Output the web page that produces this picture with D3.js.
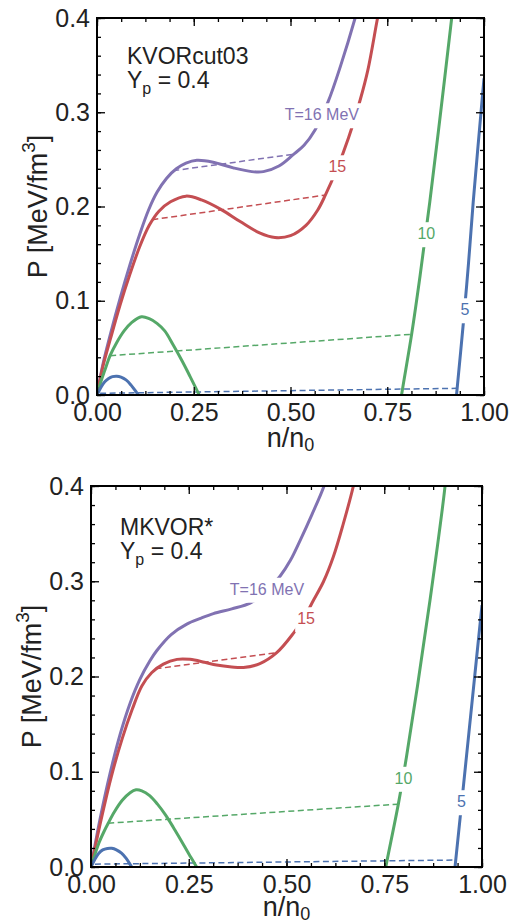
<!DOCTYPE html>
<html>
<head>
<meta charset="utf-8">
<script src="https://cdn.jsdelivr.net/npm/d3@7"></script>
<style>
  body { margin: 0; background: #fff; }
  text { font-family: "Liberation Sans", Arial, sans-serif; }
</style>
</head>
<body>
<svg id="chart" width="516" height="924"></svg>
<script>
// ---- data: pressure isotherms P(n), n in units of n0, P in MeV/fm^3 ----
var temps = ["T=16 MeV", "15", "10", "5"];
var colors = ["#8172B2", "#C44E52", "#55A868", "#4C72B0"];
var xTicks = [0, 0.25, 0.5, 0.75, 1.0];
var yTicks = [0, 0.1, 0.2, 0.3, 0.4];

// KVORcut03 panel
var kvor16 = [[0,0],[0.015,0.032],[0.035,0.065],[0.06,0.103],[0.085,0.138],[0.11,0.17],[0.133,0.196],[0.155,0.215],
  [0.18,0.23],[0.205,0.24],[0.23,0.246],[0.258,0.249],[0.3,0.247],[0.352,0.241],[0.4,0.237],[0.43,0.237],
  [0.47,0.243],[0.507,0.255],[0.535,0.265],[0.563,0.281],[0.597,0.311],[0.63,0.35],[0.667,0.4],[0.68,0.42]];
var kvor15 = [[0,0],[0.015,0.03],[0.035,0.06],[0.06,0.096],[0.085,0.128],[0.11,0.157],[0.135,0.18],[0.16,0.195],
  [0.19,0.205],[0.23,0.211],[0.27,0.207],[0.32,0.197],[0.37,0.184],[0.42,0.172],[0.46,0.167],[0.5,0.169],
  [0.54,0.18],[0.57,0.196],[0.59,0.212],[0.62,0.24],[0.65,0.273],[0.68,0.313],[0.7,0.345],[0.725,0.4],[0.735,0.42]];
var kvor10a = [[0,0],[0.01,0.014],[0.02,0.026],[0.034,0.042],[0.05,0.055],[0.07,0.068],[0.09,0.077],[0.115,0.083],
  [0.135,0.081],[0.155,0.076],[0.175,0.068],[0.197,0.053],[0.22,0.036],[0.24,0.02],[0.264,0],[0.275,-0.01]];
var kvor10b = [[0.78,-0.02],[0.787,0],[0.813,0.0644],[0.835,0.127],[0.86,0.205],[0.888,0.3],[0.9165,0.4],[0.922,0.42]];
var kvor5a = [[0,0],[0.01,0.008],[0.02,0.014],[0.03,0.0175],[0.04,0.0195],[0.051,0.02],[0.062,0.019],[0.075,0.016],
  [0.088,0.0105],[0.1,0.004],[0.107,0],[0.112,-0.004]];
var kvor5b = [[0.927,-0.01],[0.929,0],[0.947,0.078],[0.96,0.14],[0.972,0.204],[1.0,0.336]];
var kvorMaxwell = [
  [[0.197,0.238],[0.512,0.2557]],
  [[0.143,0.186],[0.588,0.212]],
  [[0.034,0.0417],[0.813,0.0644]],
  [[0.008,0.0018],[0.929,0.0071]]
];

// MKVOR* panel
var mkvor16 = [[0,0],[0.023,0.05],[0.0486,0.098],[0.075,0.14],[0.1,0.172],[0.125,0.197],[0.15,0.216],[0.168,0.227],
  [0.205,0.244],[0.245,0.255],[0.28,0.261],[0.313,0.266],[0.36,0.271],[0.407,0.277],[0.445,0.288],[0.483,0.305],
  [0.51,0.322],[0.535,0.343],[0.565,0.37],[0.596,0.4],[0.61,0.42]];
var mkvor15 = [[0,0],[0.026,0.05],[0.052,0.095],[0.08,0.135],[0.105,0.165],[0.13,0.19],[0.155,0.204],[0.185,0.213],
  [0.22,0.218],[0.253,0.218],[0.29,0.215],[0.321,0.212],[0.36,0.21],[0.39,0.2095],[0.432,0.2135],[0.475,0.225],
  [0.517,0.245],[0.545,0.262],[0.569,0.28],[0.595,0.3],[0.62,0.326],[0.645,0.36],[0.671,0.4],[0.68,0.42]];
var mkvor10a = [[0,0],[0.01,0.013],[0.02,0.025],[0.033,0.037],[0.044,0.046],[0.06,0.058],[0.08,0.07],[0.1,0.078],
  [0.115,0.081],[0.13,0.08],[0.15,0.075],[0.17,0.066],[0.19,0.055],[0.21,0.042],[0.23,0.028],[0.25,0.014],
  [0.27,0],[0.28,-0.008]];
var mkvor10b = [[0.75,-0.01],[0.754,0],[0.786,0.066],[0.807,0.116],[0.835,0.19],[0.867,0.28],[0.905,0.398],[0.91,0.42]];
var mkvor5a = [[0,0],[0.01,0.008],[0.02,0.0145],[0.03,0.018],[0.042,0.0195],[0.053,0.0196],[0.065,0.018],
  [0.078,0.0145],[0.09,0.009],[0.104,0],[0.11,-0.004]];
var mkvor5b = [[0.929,-0.01],[0.931,0],[0.95,0.075],[0.975,0.175],[1.0,0.275]];
var mkvorMaxwell = [
  null,
  [[0.165,0.208],[0.475,0.225]],
  [[0.044,0.046],[0.786,0.066]],
  [[0.01,0.003],[0.931,0.0073]]
];

// ---- layout ----
var panels = [
  { title: "KVORcut03", left: 97, top: 18, right: 484, bottom: 395,
    curves: [[kvor16], [kvor15], [kvor10a, kvor10b], [kvor5a, kvor5b]],
    maxwell: kvorMaxwell,
    labelAt: [[0.581, 0.2976], [0.621, 0.2424], [0.851, 0.1714], [0.951, 0.0907]],
    titleDx: 30, titleDy: 46, xTitleDy: 52 },
  { title: "MKVOR*", left: 91, top: 486, right: 482, bottom: 867,
    curves: [[mkvor16], [mkvor15], [mkvor10a, mkvor10b], [mkvor5a, mkvor5b]],
    maxwell: mkvorMaxwell,
    labelAt: [[0.45, 0.2919], [0.55, 0.2609], [0.799, 0.0934], [0.9476, 0.0688]],
    titleDx: 29, titleDy: 49, xTitleDy: 49 }
];

var svg = d3.select("#chart");

function drawPanel(p, i) {
  var x = d3.scaleLinear().domain([0, 1]).range([p.left, p.right]);
  var y = d3.scaleLinear().domain([0, 0.4]).range([p.bottom, p.top]);
  var g = svg.append("g");

  svg.append("clipPath").attr("id", "clip" + i)
    .append("rect")
    .attr("x", p.left).attr("y", p.top)
    .attr("width", p.right - p.left).attr("height", p.bottom - p.top);

  var plot = g.append("g").attr("clip-path", "url(#clip" + i + ")");

  var line = d3.line()
    .x(function(d) { return x(d[0]); })
    .y(function(d) { return y(d[1]); })
    .curve(d3.curveCatmullRom.alpha(0.5));

  // Maxwell constructions (dashed)
  p.maxwell.forEach(function(m, k) {
    if (!m) return;
    plot.append("path")
      .attr("d", d3.line().x(function(d) { return x(d[0]); }).y(function(d) { return y(d[1]); })(m))
      .attr("fill", "none")
      .attr("stroke", colors[k])
      .attr("stroke-width", 1.5)
      .attr("stroke-dasharray", "6,3.5");
  });

  // isotherms
  p.curves.forEach(function(branches, k) {
    branches.forEach(function(b) {
      plot.append("path")
        .attr("d", line(b))
        .attr("fill", "none")
        .attr("stroke", colors[k])
        .attr("stroke-width", 3);
    });
  });

  // inline labels with white gap behind
  p.labelAt.forEach(function(pos, k) {
    var lg = g.append("g");
    var bg = lg.append("rect").attr("fill", "#fff");
    var t = lg.append("text")
      .attr("x", x(pos[0]))
      .attr("y", y(pos[1]))
      .attr("dy", "0.36em")
      .attr("text-anchor", "middle")
      .attr("font-size", 16)
      .attr("fill", colors[k])
      .text(temps[k]);
    var bb = t.node().getBBox();
    bg.attr("x", bb.x - 2).attr("y", bb.y - 3)
      .attr("width", bb.width + 4).attr("height", bb.height + 8);
  });

  // axes: major + minor ticks on all four sides, pointing inward
  var xMinor = d3.range(0, 1.0001, 0.0625);
  var yMinor = d3.range(0, 0.4001, 0.02);

  function tickStyle(sel) {
    sel.select(".domain").remove();
    sel.selectAll(".tick line").attr("stroke", "#000").attr("stroke-width", 1.3);
    sel.selectAll(".tick text").attr("font-size", 25).attr("fill", "#222")
      .attr("font-family", "'Liberation Sans', Arial, sans-serif");
  }

  g.append("g").attr("transform", "translate(0," + p.bottom + ")")
    .call(d3.axisBottom(x).tickValues(xMinor).tickSize(-4).tickFormat("")).call(tickStyle);
  g.append("g").attr("transform", "translate(0," + p.bottom + ")")
    .call(d3.axisBottom(x).tickValues(xTicks).tickSize(-8).tickPadding(8).tickFormat(d3.format(".2f")))
    .call(tickStyle);
  g.append("g").attr("transform", "translate(0," + p.top + ")")
    .call(d3.axisTop(x).tickValues(xMinor).tickSize(-4).tickFormat("")).call(tickStyle);
  g.append("g").attr("transform", "translate(0," + p.top + ")")
    .call(d3.axisTop(x).tickValues(xTicks).tickSize(-8).tickFormat("")).call(tickStyle);

  g.append("g").attr("transform", "translate(" + p.left + ",0)")
    .call(d3.axisLeft(y).tickValues(yMinor).tickSize(-4).tickFormat("")).call(tickStyle);
  g.append("g").attr("transform", "translate(" + p.left + ",0)")
    .call(d3.axisLeft(y).tickValues(yTicks).tickSize(-8).tickPadding(7).tickFormat(d3.format(".1f")))
    .call(tickStyle);
  g.append("g").attr("transform", "translate(" + p.right + ",0)")
    .call(d3.axisRight(y).tickValues(yMinor).tickSize(-4).tickFormat("")).call(tickStyle);
  g.append("g").attr("transform", "translate(" + p.right + ",0)")
    .call(d3.axisRight(y).tickValues(yTicks).tickSize(-8).tickFormat("")).call(tickStyle);

  // frame
  g.append("rect")
    .attr("x", p.left).attr("y", p.top)
    .attr("width", p.right - p.left).attr("height", p.bottom - p.top)
    .attr("fill", "none").attr("stroke", "#000").attr("stroke-width", 2);

  // model name and proton fraction
  g.append("text")
    .attr("x", p.left + p.titleDx).attr("y", p.top + p.titleDy)
    .attr("font-size", 23).attr("fill", "#222")
    .text(p.title);
  var yp = g.append("text")
    .attr("x", p.left + p.titleDx).attr("y", p.top + p.titleDy + 24)
    .attr("font-size", 23).attr("fill", "#222");
  yp.append("tspan").text("Y");
  yp.append("tspan").attr("font-size", 16).attr("dy", 6).text("p");
  yp.append("tspan").attr("dy", -6).text(" = 0.4");

  // axis titles
  var xl = g.append("text")
    .attr("x", (p.left + p.right) / 2).attr("y", p.bottom + p.xTitleDy)
    .attr("text-anchor", "middle").attr("font-size", 27).attr("fill", "#222");
  xl.append("tspan").text("n/n");
  xl.append("tspan").attr("font-size", 18).attr("dy", 4).text("0");

  var yl = g.append("text")
    .attr("transform", "translate(" + (p.left - 50) + "," + ((p.top + p.bottom) / 2) + ") rotate(-90)")
    .attr("text-anchor", "middle").attr("font-size", 27).attr("fill", "#222");
  yl.append("tspan").text("P [MeV/fm");
  yl.append("tspan").attr("font-size", 19).attr("dy", -12).text("3");
  yl.append("tspan").attr("dy", 12).text("]");
}

panels.forEach(drawPanel);
</script>
</body>
</html>
